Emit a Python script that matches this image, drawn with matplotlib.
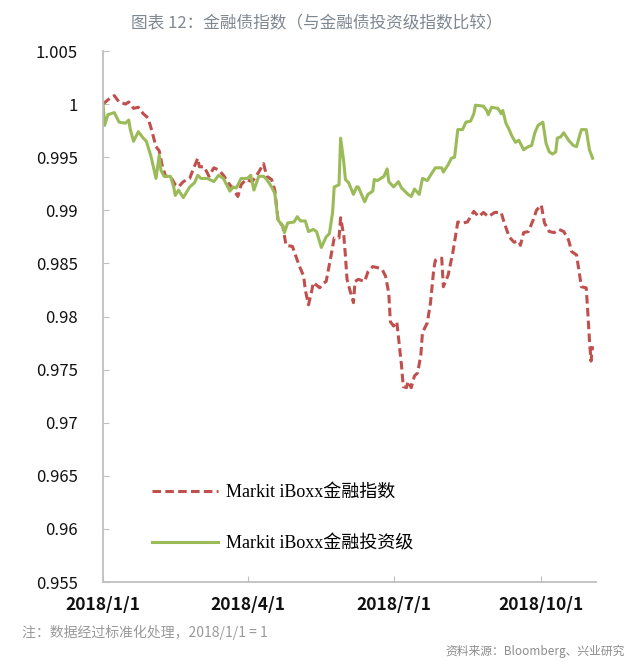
import matplotlib
matplotlib.use("Agg")
import matplotlib.pyplot as plt
import matplotlib.dates as mdates
import numpy as np
import pandas as pd

plt.rcParams['font.family'] = ['Noto Sans CJK SC', 'DejaVu Sans']

START = "2018-01-01"

# Markit iBoxx 金融投资级 (days since 2018/1/1, index value)
ig_days = [0, 1, 3, 7, 10, 14, 16, 17, 19, 22, 25, 27, 30, 33, 35, 36, 38, 42, 44, 45,
           47, 50, 54, 57, 59, 61, 65, 69, 72, 75, 79, 81, 83, 86, 90, 92, 94, 97, 100, 102,
           105, 107, 109, 112, 113, 115, 119, 121, 123, 126, 128, 131, 133, 136, 139, 141, 143, 144, 147, 148,
           150, 151, 153, 156, 158, 159, 163, 165, 168, 169, 171, 175, 177, 178, 181, 184, 186, 190, 192, 194,
           197, 199, 202, 204, 207, 211, 212, 215, 217, 219, 221, 224, 226, 229, 231, 232, 237, 239, 240, 242,
           246, 248, 249, 251, 253, 255, 257, 259, 262, 265, 267, 269, 271, 274, 276, 278, 280, 282, 283, 285,
           287, 290, 293, 295, 297, 298, 301, 303, 305]
ig_vals = [1.0000, 0.9980, 0.9990, 0.9992, 0.9983, 0.9982, 0.9985, 0.9976, 0.9965, 0.9974, 0.9968, 0.9965, 0.9950, 0.9930, 0.9952, 0.9938, 0.9932, 0.9932, 0.9922, 0.9914,
           0.9919, 0.9912, 0.9922, 0.9926, 0.9933, 0.9930, 0.9930, 0.9927, 0.9933, 0.9930, 0.9918, 0.9922, 0.9921, 0.9930, 0.9930, 0.9933, 0.9919, 0.9932, 0.9932, 0.9929,
           0.9922, 0.9916, 0.9891, 0.9885, 0.9879, 0.9888, 0.9889, 0.9894, 0.9890, 0.9890, 0.9880, 0.9882, 0.9880, 0.9865, 0.9875, 0.9878, 0.9898, 0.9922, 0.9924, 0.9968,
           0.9945, 0.9929, 0.9926, 0.9915, 0.9922, 0.9922, 0.9908, 0.9915, 0.9918, 0.9929, 0.9928, 0.9932, 0.9939, 0.9927, 0.9922, 0.9927, 0.9921, 0.9915, 0.9913, 0.9920,
           0.9915, 0.9930, 0.9928, 0.9933, 0.9940, 0.9940, 0.9936, 0.9943, 0.9949, 0.9950, 0.9976, 0.9976, 0.9983, 0.9984, 0.9991, 0.9999, 0.9998, 0.9994, 0.9990, 0.9997,
           0.9996, 0.9991, 0.9994, 0.9982, 0.9976, 0.9969, 0.9964, 0.9966, 0.9957, 0.9960, 0.9961, 0.9973, 0.9980, 0.9983, 0.9963, 0.9955, 0.9953, 0.9955, 0.9968, 0.9969,
           0.9973, 0.9966, 0.9961, 0.9960, 0.9971, 0.9976, 0.9976, 0.9957, 0.9949]

# Markit iBoxx 金融指数
fin_days = [0, 3, 7, 10, 14, 16, 19, 22, 25, 28, 30, 33, 35, 37, 39, 42, 45, 47, 50, 54,
            56, 59, 60, 63, 66, 69, 72, 75, 78, 81, 84, 86, 89, 93, 97, 100, 102, 105, 107, 109,
            112, 114, 118, 121, 123, 125, 126, 128, 130, 131, 135, 137, 139, 140, 142, 144, 147, 148, 150, 151,
            152, 153, 156, 157, 159, 163, 165, 168, 171, 174, 176, 178, 179, 181, 183, 184, 186, 187, 189, 190,
            192, 194, 196, 198, 199, 202, 204, 206, 207, 211, 212, 215, 218, 221, 224, 227, 231, 234, 237, 240,
            244, 248, 250, 253, 256, 259, 260, 262, 265, 268, 270, 273, 275, 278, 281, 284, 287, 290, 292, 295,
            297, 298, 301, 302, 303, 304, 305]
fin_vals = [1.0000, 1.0004, 1.0008, 1.0002, 1.0000, 1.0002, 0.9996, 0.9997, 0.9991, 0.9987, 0.9977, 0.9960, 0.9956, 0.9941, 0.9932, 0.9932, 0.9924, 0.9922, 0.9927, 0.9930,
            0.9938, 0.9949, 0.9941, 0.9941, 0.9932, 0.9940, 0.9938, 0.9933, 0.9926, 0.9920, 0.9913, 0.9924, 0.9929, 0.9927, 0.9936, 0.9944, 0.9932, 0.9929, 0.9919, 0.9891,
            0.9885, 0.9867, 0.9866, 0.9853, 0.9845, 0.9838, 0.9825, 0.9811, 0.9824, 0.9832, 0.9827, 0.9831, 0.9833, 0.9841, 0.9857, 0.9874, 0.9874, 0.9893, 0.9876, 0.9857,
            0.9835, 0.9829, 0.9813, 0.9833, 0.9835, 0.9833, 0.9842, 0.9847, 0.9846, 0.9844, 0.9838, 0.9822, 0.9795, 0.9791, 0.9795, 0.9781, 0.9753, 0.9734, 0.9733, 0.9739,
            0.9733, 0.9744, 0.9747, 0.9764, 0.9785, 0.9794, 0.9813, 0.9844, 0.9853, 0.9855, 0.9828, 0.9839, 0.9861, 0.9889, 0.9888, 0.9889, 0.9899, 0.9894, 0.9898, 0.9894,
            0.9898, 0.9898, 0.9888, 0.9875, 0.9870, 0.9871, 0.9867, 0.9879, 0.9880, 0.9891, 0.9900, 0.9905, 0.9888, 0.9880, 0.9879, 0.9882, 0.9880, 0.9872, 0.9861, 0.9858,
            0.9838, 0.9828, 0.9827, 0.9804, 0.9778, 0.9758, 0.9772]

series_labels = ["Markit iBoxx金融指数", "Markit iBoxx金融投资级"]
xtick_dates = ["2018-01-01", "2018-04-01", "2018-07-01", "2018-10-01"]
xtick_labels = ["2018/1/1", "2018/4/1", "2018/7/1", "2018/10/1"]
yticks = [0.955, 0.96, 0.965, 0.97, 0.975, 0.98, 0.985, 0.99, 0.995, 1.0, 1.005]
ytick_labels = ["0.955", "0.96", "0.965", "0.97", "0.975", "0.98", "0.985", "0.99", "0.995", "1", "1.005"]
title = "图表 12：金融债指数（与金融债投资级指数比较）"
note = "注：数据经过标准化处理，2018/1/1 = 1"
source = "资料来源：Bloomberg、兴业研究"

t0 = pd.Timestamp(START)
ig_x = [t0 + pd.Timedelta(days=d) for d in ig_days]
fin_x = [t0 + pd.Timedelta(days=d) for d in fin_days]

fig = plt.figure(figsize=(6.4, 6.65), dpi=100)
ax = fig.add_axes([0.161, 0.1248, 0.770, 0.7985])

RED = "#c0504d"
GREEN = "#9bbb59"

l1, = ax.plot(fin_x, fin_vals, color=RED, lw=2.2, linestyle=(0, (2.8, 1.4)), dash_capstyle='butt')
l2, = ax.plot(ig_x, ig_vals, color=GREEN, lw=2.2)

ax.set_ylim(0.955, 1.005)
ax.set_xlim(t0, t0 + pd.Timedelta(days=307))
ax.set_yticks(yticks)
ax.set_yticklabels(ytick_labels, fontsize=12, color="#111111")
ax.set_xticks([pd.Timestamp(d) for d in xtick_dates])
ax.set_xticklabels(xtick_labels, fontsize=12.5, fontweight='bold', color="#111111")

for s in ["top", "right"]:
    ax.spines[s].set_visible(False)
for s in ["left", "bottom"]:
    ax.spines[s].set_color("#bfbfbf")
    ax.spines[s].set_linewidth(1.3)
ax.tick_params(axis='y', direction='in', length=4, color="#bfbfbf", pad=18)
ax.tick_params(axis='x', direction='in', length=4, color="#bfbfbf", pad=10)

leg = ax.legend([l1, l2], series_labels, loc='lower left', bbox_to_anchor=(0.099, 0.056),
                frameon=False, borderpad=0, borderaxespad=0, handlelength=3.65,
                handletextpad=0.45, labelspacing=1.9,
                prop={'family': ['Liberation Serif', 'Noto Sans CJK SC'], 'size': 13})

fig.text(0.495, 0.965, title, ha='center', va='center', fontsize=12, color="#7f8790")
fig.text(0.034, 0.049, note, ha='left', va='center', fontsize=10, color="#999999")
fig.text(0.977, 0.021, source, ha='right', va='center', fontsize=8.5, color="#8c8c8c")

fig.savefig("out.png", dpi=100)
